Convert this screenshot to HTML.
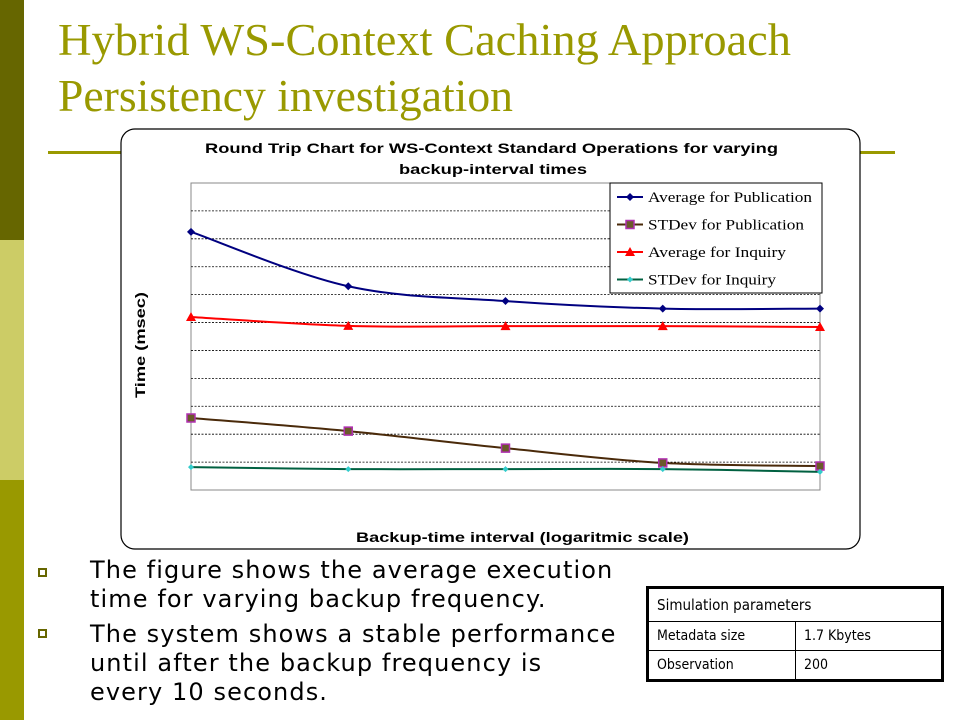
<!DOCTYPE html>
<html><head><meta charset="utf-8"><style>
body{margin:0;width:960px;height:720px;position:relative;background:#fff;overflow:hidden;font-family:"Liberation Sans",sans-serif}
.abs{position:absolute}
.bt{font-family:'DejaVu Sans',sans-serif;font-size:24px;line-height:29px;letter-spacing:1.1px;white-space:nowrap}
</style></head><body>
<div class="abs" style="left:0;top:0;width:24px;height:240px;background:#666600"></div>
<div class="abs" style="left:0;top:240px;width:24px;height:240px;background:#cccc66"></div>
<div class="abs" style="left:0;top:480px;width:24px;height:240px;background:#999900"></div>
<svg class="abs" style="left:0;top:0" width="960" height="720">
<text x="58" y="55" font-family="Liberation Serif, serif" font-size="45" fill="#999900" textLength="733" lengthAdjust="spacingAndGlyphs">Hybrid WS-Context Caching Approach</text>
<text x="58" y="111" font-family="Liberation Serif, serif" font-size="45" fill="#999900" textLength="455" lengthAdjust="spacingAndGlyphs">Persistency investigation</text>
<rect x="48" y="151" width="75" height="3" fill="#999900"/>
<rect x="858" y="151" width="37" height="3" fill="#999900"/>
<rect x="121" y="129" width="739" height="420" rx="14" fill="#fff" stroke="#000" stroke-width="1.2"/>
<text x="205" y="153" font-size="14" font-weight="bold" textLength="573" lengthAdjust="spacingAndGlyphs">Round Trip Chart for WS-Context Standard Operations for varying</text>
<text x="399" y="174" font-size="14" font-weight="bold" textLength="188" lengthAdjust="spacingAndGlyphs">backup-interval times</text>
<rect x="191" y="183" width="629" height="307" fill="none" stroke="#888"/>
<g id="grid"></g>
<g id="series"></g>
<text x="356" y="542" font-size="14" font-weight="bold" textLength="333" lengthAdjust="spacingAndGlyphs">Backup-time interval (logaritmic scale)</text>
<text transform="translate(145,398) rotate(-90)" font-size="14" font-weight="bold" textLength="106" lengthAdjust="spacingAndGlyphs">Time (msec)</text>
<g>
<rect x="610" y="183" width="212" height="110" fill="#fff" stroke="#000"/>
<g id="legend"></g>
</g>
</svg>
<div class="abs" style="left:38px;top:568px;width:9px;height:9px;border:2px solid #666600;box-sizing:border-box"></div>
<div class="abs" style="left:38px;top:629px;width:9px;height:9px;border:2px solid #666600;box-sizing:border-box"></div>
<div class="abs bt" style="left:90px;top:556px">The figure shows the average execution<br>time for varying backup frequency.</div>
<div class="abs bt" style="left:90px;top:620px">The system shows a stable performance<br>until after the backup frequency is<br>every 10 seconds.</div>
<table class="abs" style="left:646px;top:586px;width:298px;height:96px;border-collapse:collapse;border:3px solid #000;font-family:'DejaVu Sans Condensed','DejaVu Sans',sans-serif;font-size:14px">
<tr><td colspan="2" style="border:1px solid #000;padding:0 8px;font-size:15px">Simulation parameters</td></tr>
<tr><td style="border:1px solid #000;padding:0 8px;width:130px">Metadata size</td><td style="border:1px solid #000;padding:0 8px">1.7 Kbytes</td></tr>
<tr><td style="border:1px solid #000;padding:0 8px">Observation</td><td style="border:1px solid #000;padding:0 8px">200</td></tr>
</table>
<script>
const categories=["1","10","100","1000","10000"];
const avgPublication=[92.5,73,67.7,65,65];
const stdevPublication=[25.8,21.1,15,9.7,8.6];
const avgInquiry=[62,58.8,58.7,58.7,58.4];
const stdevInquiry=[8.2,7.5,7.5,7.5,6.5];
const seriesNames=["Average for Publication","STDev for Publication","Average for Inquiry","STDev for Inquiry"];
const yMax=110, gridStep=10;
const NS="http://www.w3.org/2000/svg";
const X0=191,X1=820,Y0=490,Y1=183;
const legendLens=[164,156,138,128];
function xs(i){return X0+i*(X1-X0)/(categories.length-1);}
function ys(v){return Y0-v/yMax*(Y0-Y1);}
const grid=document.getElementById('grid');
for(let v=gridStep;v<yMax;v+=gridStep){const l=document.createElementNS(NS,'line');


l.setAttribute('x1',X0);l.setAttribute('x2',X1);l.setAttribute('y1',ys(v));l.setAttribute('y2',ys(v));l.setAttribute('stroke','#000');l.setAttribute('stroke-dasharray','2,1.5');l.setAttribute('stroke-width','0.8');grid.appendChild(l);}
function spline(pts){let d=`M${pts[0][0]},${pts[0][1]}`;for(let i=0;i<pts.length-1;i++){const p0=pts[Math.max(0,i-1)],p1=pts[i],p2=pts[i+1],p3=pts[Math.min(pts.length-1,i+2)];const t=1/6;d+=` C${p1[0]+(p2[0]-p0[0])*t},${p1[1]+(p2[1]-p0[1])*t} ${p2[0]-(p3[0]-p1[0])*t},${p2[1]-(p3[1]-p1[1])*t} ${p2[0]},${p2[1]}`;}return d;}
function marker(g,type,x,y,col,fill){let m;
if(type==='diamond'){m=document.createElementNS(NS,'polygon');m.setAttribute('points',`${x},${y-4} ${x+4},${y} ${x},${y+4} ${x-4},${y}`);}
else if(type==='square'){m=document.createElementNS(NS,'rect');m.setAttribute('x',x-4);m.setAttribute('y',y-4);m.setAttribute('width',8);m.setAttribute('height',8);m.setAttribute('stroke','#b030b0');m.setAttribute('stroke-width','1.5');}
else if(type==='triangle'){m=document.createElementNS(NS,'polygon');m.setAttribute('points',`${x},${y-5} ${x+5},${y+4} ${x-5},${y+4}`);}
else{m=document.createElementNS(NS,'polygon');m.setAttribute('points',`${x},${y-3} ${x+3},${y} ${x},${y+3} ${x-3},${y}`);}
m.setAttribute('fill',fill);


g.appendChild(m);}
const defs=[[avgPublication,'#000080','diamond','#000080'],[stdevPublication,'#4a2a0a','square','#6b5a2a'],[avgInquiry,'#ff0000','triangle','#ff0000'],[stdevInquiry,'#006040','diamond2','#33cccc']];
const sg=document.getElementById('series'),lg=document.getElementById('legend');
defs.forEach((d,k)=>{const g=document.createElementNS(NS,'g');


const pts=d[0].map((v,i)=>[xs(i),ys(v)]);
const p=document.createElementNS(NS,'path');p.setAttribute('d',spline(pts));p.setAttribute('fill','none');p.setAttribute('stroke',d[1]);p.setAttribute('stroke-width','2');


g.appendChild(p);pts.forEach(q=>marker(g,d[2],q[0],q[1],d[1],d[3]));sg.appendChild(g);
const ly=197+k*27.5;const e=document.createElementNS(NS,'g');


const l=document.createElementNS(NS,'line');l.setAttribute('x1',617);l.setAttribute('x2',643);l.setAttribute('y1',ly);l.setAttribute('y2',ly);l.setAttribute('stroke',d[1]);l.setAttribute('stroke-width','2');e.appendChild(l);
marker(e,d[2],630,ly,d[1],d[3]);
const t=document.createElementNS(NS,'text');t.setAttribute('x',648);t.setAttribute('y',ly+5);t.setAttribute('font-family','Liberation Serif, serif');t.setAttribute('font-size','15');t.setAttribute('textLength',legendLens[k]);t.setAttribute('lengthAdjust','spacingAndGlyphs');t.textContent=seriesNames[k];e.appendChild(t);lg.appendChild(e);});
</script>
</body></html>
